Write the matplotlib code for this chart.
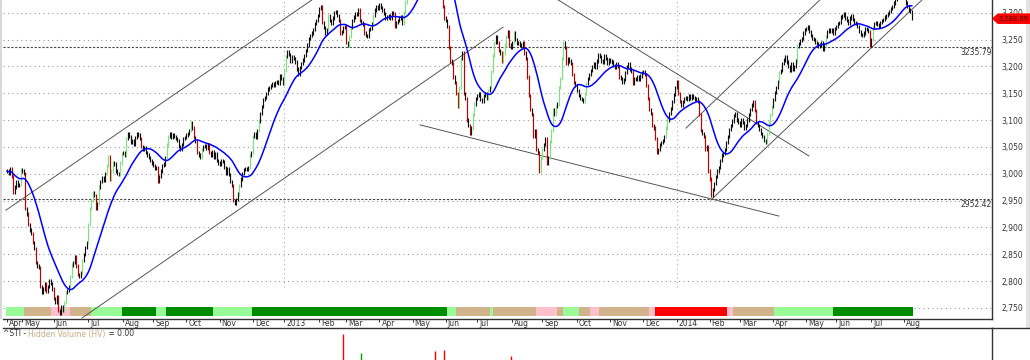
import numpy as np
import pandas as pd
import matplotlib
matplotlib.use('Agg')
import matplotlib.pyplot as plt
from matplotlib.patches import Rectangle, Polygon
from matplotlib.lines import Line2D
import matplotlib.transforms as mtrans

# ---- daily closes, one list per month (^STI, Apr 2012 - Aug 2014) ----
apr12 = [3005, 3000, 3010, 2995, 2965, 2975, 2985, 2978, 2980, 3008]
may12 = [3005, 3000, 2935, 2925, 2905, 2895, 2888, 2872, 2860, 2835, 2828, 2825, 2790, 2778, 2785,
         2795, 2780, 2790, 2800, 2795, 2785]
jun12 = [2768, 2760, 2770, 2745, 2740, 2752, 2745, 2760, 2778, 2782, 2790, 2808, 2830, 2835, 2845,
         2828, 2812, 2808, 2815, 2838, 2850, 2862, 2872]
jul12 = [2905, 2935, 2950, 2965, 2960, 2935, 2945, 2975, 2985, 2992, 2988, 3000, 3015, 3032, 2990,
         3005, 3020, 3018, 3005, 3000, 2998, 3020, 3038]
aug12 = [3040, 3035, 3065, 3075, 3070, 3058, 3062, 3055, 3068, 3075, 3072, 3065, 3050, 3045, 3048,
         3040, 3035, 3030, 3025, 3020]
sep12 = [3015, 3010, 3012, 2985, 2995, 3005, 3015, 3018, 3030, 3055, 3070, 3075, 3068, 3072, 3070,
         3066, 3062, 3050, 3045, 3055, 3065, 3068]
oct12 = [3072, 3075, 3080, 3095, 3085, 3068, 3060, 3040, 3035, 3030, 3045, 3050, 3052, 3048, 3055,
         3040, 3035, 3042, 3030, 3038, 3025, 3020]
nov12 = [3018, 3025, 3022, 3012, 3000, 3010, 2998, 2985, 2978, 2950, 2945, 2952, 2962, 2978, 2990,
         3000, 3008, 3010, 3008, 3012, 3035, 3040]
dec12 = [3070, 3075, 3068, 3080, 3098, 3112, 3125, 3138, 3142, 3150, 3158, 3160, 3165, 3168, 3165,
         3170, 3172, 3168, 3182, 3178, 3168]
jan13 = [3192, 3218, 3228, 3222, 3210, 3218, 3215, 3208, 3195, 3185, 3198, 3205, 3212, 3220, 3230,
         3240, 3252, 3258, 3262, 3268, 3280, 3285, 3295]
feb13 = [3308, 3312, 3282, 3272, 3262, 3268, 3295, 3285, 3280, 3290, 3300, 3302, 3295, 3285, 3262,
         3265, 3272, 3275]
mar13 = [3245, 3240, 3255, 3272, 3285, 3292, 3298, 3296, 3305, 3285, 3282, 3278, 3262, 3258, 3255,
         3268, 3270, 3280, 3295, 3305, 3312, 3308]
apr13 = [3315, 3310, 3305, 3298, 3290, 3292, 3295, 3290, 3300, 3298, 3275, 3282, 3285, 3290, 3292,
         3280, 3300, 3320, 3335, 3345, 3350, 3358]
may13 = [3365, 3372, 3385, 3392, 3398, 3405, 3402, 3412, 3420, 3425, 3432, 3440, 3446, 3452, 3448,
         3430, 3405, 3380, 3355, 3330, 3312, 3290]
jun13 = [3285, 3275, 3235, 3210, 3205, 3180, 3170, 3150, 3125, 3160, 3215, 3225, 3150, 3140, 3100,
         3090, 3075, 3085, 3110, 3130, 3140]
jul13 = [3145, 3150, 3138, 3135, 3145, 3150, 3140, 3155, 3160, 3190, 3220, 3245, 3255, 3245, 3230,
         3225, 3210, 3225, 3240, 3255, 3265, 3240, 3235]
aug13 = [3245, 3262, 3250, 3242, 3245, 3240, 3238, 3245, 3225, 3215, 3180, 3145, 3120, 3110, 3070,
         3080, 3045, 3040, 3005, 3030]
sep13 = [3045, 3055, 3065, 3020, 3030, 3060, 3080, 3120, 3110, 3125, 3130, 3160, 3178, 3215, 3245,
         3235, 3205, 3215, 3210, 3205, 3185, 3170, 3165]
oct13 = [3155, 3145, 3140, 3138, 3135, 3150, 3168, 3178, 3185, 3192, 3200, 3205, 3198, 3210, 3222,
         3218, 3210, 3208, 3220, 3215, 3205, 3212]
nov13 = [3210, 3208, 3202, 3198, 3205, 3200, 3180, 3178, 3170, 3175, 3188, 3200, 3205, 3195, 3190,
         3168, 3178, 3175, 3180, 3175, 3182, 3188]
dec13 = [3190, 3185, 3165, 3140, 3120, 3112, 3090, 3085, 3065, 3040, 3045, 3055, 3058, 3062, 3070,
         3085, 3100, 3112, 3122, 3135, 3148, 3160]
jan14 = [3172, 3150, 3135, 3128, 3135, 3140, 3142, 3138, 3145, 3140, 3145, 3142, 3138, 3140, 3135,
         3110, 3080, 3075, 3070, 3045, 3050, 3005]
feb14 = [2990, 2960, 2970, 2982, 2995, 3005, 3012, 3025, 3035, 3038, 3045, 3058, 3070, 3082, 3090,
         3098, 3108, 3112, 3100, 3095]
mar14 = [3090, 3100, 3095, 3085, 3090, 3100, 3110, 3120, 3128, 3135, 3118, 3095, 3090, 3082, 3075,
         3070, 3062, 3058, 3075, 3095, 3110, 3125]
apr14 = [3138, 3152, 3160, 3172, 3188, 3192, 3205, 3212, 3218, 3208, 3200, 3192, 3205, 3195, 3200,
         3210, 3238, 3242, 3248, 3252, 3262, 3268]
may14 = [3270, 3275, 3265, 3258, 3252, 3250, 3245, 3242, 3238, 3240, 3245, 3232, 3240, 3255, 3265,
         3268, 3265, 3268, 3262, 3270]
jun14 = [3275, 3280, 3282, 3292, 3295, 3298, 3290, 3285, 3280, 3290, 3295, 3288, 3282, 3280, 3275,
         3265, 3260, 3258, 3262, 3270, 3268, 3265, 3240]
jul14 = [3250, 3272, 3280, 3282, 3278, 3275, 3282, 3285, 3288, 3292, 3295, 3298, 3302, 3308, 3312,
         3318, 3325, 3330, 3335, 3338, 3340, 3336]
aug14 = [3330, 3318, 3312, 3305, 3302, 3288.89]

months = [apr12, may12, jun12, jul12, aug12, sep12, oct12, nov12, dec12,
          jan13, feb13, mar13, apr13, may13, jun13, jul13, aug13, sep13, oct13, nov13, dec13,
          jan14, feb14, mar14, apr14, may14, jun14, jul14, aug14]
month_labels = ['Apr', 'May', 'Jun', 'Jul', 'Aug', 'Sep', 'Oct', 'Nov', 'Dec',
                '2013', 'Feb', 'Mar', 'Apr', 'May', 'Jun', 'Jul', 'Aug', 'Sep', 'Oct', 'Nov', 'Dec',
                '2014', 'Feb', 'Mar', 'Apr', 'May', 'Jun', 'Jul', 'Aug']

# colour band under the price (start bar of each block)
band_start = [0, 12, 30, 42, 56, 77, 99, 106, 137, 163, 292, 298, 321, 323, 351, 365, 369,
              380, 387, 393, 426, 430, 478, 482, 509, 548]
band_kind = ['lg', 'tan', 'pink', 'tan', 'lg', 'dg', 'lg', 'dg', 'lg', 'dg', 'lg', 'tan', 'lg',
             'tan', 'pink', 'tan', 'lg', 'tan', 'pink', 'tan', 'pink', 'red', 'pink', 'tan', 'lg', 'dg']

# hand drawn trend lines: (bar, price) -> (bar, price)
trend_lines = [((-0.7, 2932), (202.3, 3324)),
               ((49.7, 2731), (328.9, 3273)),
               ((273.9, 3091), (511.9, 2921)),
               ((365.4, 3324), (531.8, 3033)),
               ((450.3, 3085), (539.1, 3324)),
               ((466.8, 2951), (606.8, 3324))]
levels = [3235.79, 2952.42]

# hidden volume spikes (bar, height, colour)
hv_bar = [223, 235, 284, 290, 334]
hv_height = [0.80, 0.22, 0.28, 0.31, 0.13]
hv_col = ['#ff0000', '#00a000', '#ff0000', '#ff0000', '#ff0000']

# ------------------------------------------------------------------
closes = np.array([v for m in months for v in m], dtype=float)
n = len(closes)
idx = np.arange(n)
month_start = np.cumsum([0] + [len(m) for m in months[:-1]])

prev = np.r_[closes[0], closes[:-1]]
diff = closes - prev
lo = np.minimum(prev, closes) - 3
hi = np.maximum(prev, closes) + 3
bar_col = np.where(diff > 14, '#7ee07e', np.where(diff < -14, '#c00000', '#111111'))

ma = pd.Series(closes).ewm(span=12).mean().ewm(span=11).mean()

band_colors = {'lg': '#98fb98', 'tan': '#d2b48c', 'pink': '#ffc0cb', 'dg': '#008c00', 'red': '#ff0000'}

W, H = 1030, 360
fig = plt.figure(figsize=(W / 100, H / 100), dpi=100)
ax = fig.add_axes([3 / W, 1 - 319 / H, 989 / W, 319 / H])
ax.set_xlim(-2.65, 653.2)
ax.set_ylim(2729.2, 3323.7)

for v in range(2750, 3301, 50):
    ax.axhline(v, color='#999999', lw=0.8, ls=(0, (1, 3)), zorder=0)
for lab, s in zip(month_labels, month_start):
    if lab.isdigit():
        ax.axvline(s, ymin=0.1, color='#aaaaaa', lw=0.8, ls=(0, (1, 3)), zorder=0)
for v in levels:
    ax.axhline(v, color='#444444', lw=0.8, ls=(0, (2, 1.5)), zorder=1)
    ax.text(1.0, v - 2, f'{v:.2f}', transform=ax.get_yaxis_transform(), ha='right', va='top',
            fontsize=5.5, color='#333333')

ends = band_start[1:] + [n]
for s, e, k in zip(band_start, ends, band_kind):
    ax.add_patch(Rectangle((s - 0.5, 2735), e - s, 17, color=band_colors[k], lw=0, zorder=1))

for (x0, y0), (x1, y1) in trend_lines:
    ax.plot([x0, x1], [y0, y1], color='#555555', lw=0.7, zorder=2)

ax.vlines(idx, lo, hi, colors=bar_col, lw=0.85, zorder=3)
ax.plot(idx, ma, color='#0000ff', lw=1.1, zorder=4)

ax.yaxis.tick_right()
ax.set_yticks(range(2750, 3301, 50))
ax.set_yticklabels([f'{v:,}' for v in range(2750, 3301, 50)])
ax.tick_params(axis='y', length=0, pad=7, labelsize=5.5, labelcolor='#333333')
ax.set_xticks(month_start)
ax.set_xticklabels(month_labels)
ax.tick_params(axis='x', direction='out', length=2.5, pad=-2.2, labelsize=5.5,
               labelcolor='#333333', color='#333333', width=0.7)
shift = mtrans.ScaledTranslation(2 / 100, 0, fig.dpi_scale_trans)
for lbl in ax.get_xticklabels():
    lbl.set_horizontalalignment('left')
    lbl.set_transform(lbl.get_transform() + shift)
for sp in ['top', 'left']:
    ax.spines[sp].set_visible(False)
for sp in ['bottom', 'right']:
    ax.spines[sp].set_color('#333333')
    ax.spines[sp].set_linewidth(1.0)

# frame strips at the edges (behind everything)
fig.patches.append(Rectangle((0, 1 - 319 / H), 2 / W, 319 / H, transform=fig.transFigure,
                             color='#d8d8d8', lw=0, zorder=-5))
fig.patches.append(Rectangle((1026 / W, 1 - 328 / H), 4 / W, 328 / H, transform=fig.transFigure,
                             color='#e4e4e4', lw=0, zorder=-5))

# last price tag
last = closes[-1]
tr = mtrans.blended_transform_factory(fig.transFigure, ax.transData)
hh = 4.6 * (3323.7 - 2729.2) / 319
ax.add_patch(Polygon([(993 / W, last), (998 / W, last + hh), (1030 / W, last + hh),
                      (1030 / W, last - hh), (998 / W, last - hh)],
                     closed=True, color='#ff0000', transform=tr, clip_on=False, zorder=5))
ax.text(1013 / W, last, f'{last:,.2f}', transform=tr, ha='center', va='center',
        fontsize=4.9, color='#4a0000', zorder=6, clip_on=False)

# hidden volume panel
ax2 = fig.add_axes([3 / W, 0, 989 / W, 32 / H])
ax2.set_xlim(ax.get_xlim())
ax2.set_ylim(0, 1)
ax2.vlines(hv_bar, 0, hv_height, colors=hv_col, lw=1.0)
ax2.set_xticks([])
ax2.set_yticks([])
for sp in ['left', 'bottom']:
    ax2.spines[sp].set_visible(False)
for sp in ['top', 'right']:
    ax2.spines[sp].set_color('#333333')
    ax2.spines[sp].set_linewidth(1.0)
ax2.patch.set_alpha(0)
fig.add_artist(Line2D([992 / W, 1], [1 - 328 / H] * 2, color='#333333', lw=1.0))

fig.canvas.draw()
r = fig.canvas.get_renderer()
parts = ['^STI - ', 'Hidden Volume (HV)', ' = 0.00']
part_cols = ['#333333', '#c8aa84', '#333333']
xp = 3
for s, c in zip(parts, part_cols):
    t = fig.text(xp / W, 1 - 334 / H, s, color=c, fontsize=5.5, va='center')
    xp += t.get_window_extent(r).width

fig.savefig('out.png', dpi=100)
